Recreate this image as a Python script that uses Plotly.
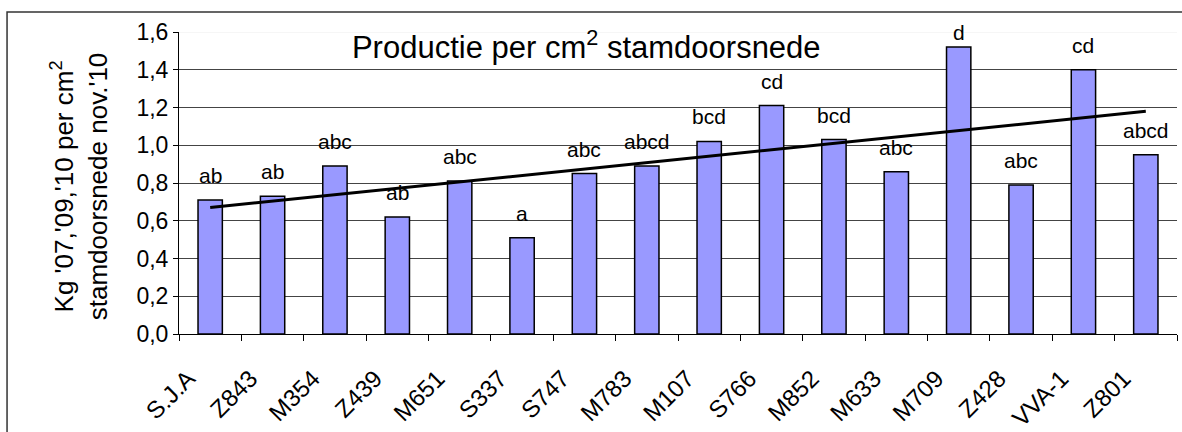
import plotly.graph_objects as go

# cultivars on the x axis
cultivars = ["S.J.A", "Z843", "M354", "Z439", "M651", "S337", "S747", "M783",
             "M107", "S766", "M852", "M633", "M709", "Z428", "VVA-1", "Z801"]

# kg per cm2 trunk cross-section
production = [0.71, 0.73, 0.89, 0.62, 0.81, 0.51, 0.85, 0.89,
              1.02, 1.21, 1.03, 0.86, 1.52, 0.79, 1.40, 0.95]

# significance letters above the bars
letters = ["ab", "ab", "abc", "ab", "abc", "a", "abc", "abcd",
           "bcd", "cd", "bcd", "abc", "d", "abc", "cd", "abcd"]

# linear trend line, read at first and last cultivar
trend_x = ["S.J.A", "Z801"]
trend_y = [0.67, 1.18]

Y_MAX = 1.6
FONT = "Liberation Sans, Arial, sans-serif"

fig = go.Figure()

fig.add_trace(go.Bar(
    x=cultivars,
    y=production,
    marker=dict(color="#9999FF", line=dict(color="black", width=1.5)),
    width=0.39,
    showlegend=False,
))

fig.add_trace(go.Scatter(
    x=trend_x,
    y=trend_y,
    mode="lines",
    line=dict(color="black", width=3),
    showlegend=False,
))

# letters sit a fixed distance above each bar; like Excel, a label that
# would run off the top gets pushed back down against the plot edge
for name, value, label in zip(cultivars, production, letters):
    if value > 1.46:
        pos = dict(y=Y_MAX, yanchor="top", yshift=13)
    else:
        pos = dict(y=value, yanchor="bottom", yshift=11)
    fig.add_annotation(
        x=name, text=label, showarrow=False,
        font=dict(family=FONT, size=21, color="black"),
        **pos,
    )

# y axis title (two lines, rotated)
fig.add_annotation(
    xref="paper", yref="paper", x=-0.10, y=0.49,
    text="Kg '07,'09,'10 per cm<sup>2</sup><br>stamdoorsnede nov.'10",
    textangle=-90, showarrow=False, xanchor="center", yanchor="middle",
    font=dict(family=FONT, size=26, color="black"),
)

# faint line along the top of the plot area
fig.add_shape(type="line", xref="paper", yref="y", x0=0, x1=1, y0=Y_MAX, y1=Y_MAX,
              line=dict(color="#eeeeee", width=1), layer="between")

# chart area border (runs off the right and bottom of the picture)
fig.add_shape(type="rect", xref="paper", yref="paper",
              x0=-0.1723, x1=1.05, y0=-0.5, y1=1.066,
              line=dict(color="#333333", width=1.5))

fig.update_layout(
    width=1182,
    height=432,
    margin=dict(l=179, r=5, t=32, b=98, autoexpand=False),
    paper_bgcolor="white",
    plot_bgcolor="white",
    separators=",.",
    font=dict(family=FONT, color="black"),
    title=dict(
        text="Productie per cm<sup>2</sup> stamdoorsnede",
        x=0.496, xanchor="center", y=0.89, yanchor="middle",
        font=dict(family=FONT, size=31, color="black"),
    ),
)

fig.update_xaxes(
    showline=True, linecolor="black", linewidth=1,
    ticks="outside", tickson="boundaries", ticklen=6, tickcolor="black",
    tickangle=-45, tickfont=dict(family=FONT, size=24, color="black"),
    ticklabelstandoff=20, ticklabelshift=-22,
    showgrid=False,
)

fig.update_yaxes(
    range=[0, Y_MAX], dtick=0.2, tickformat=".1f",
    showline=True, linecolor="black", linewidth=1,
    ticks="outside", ticklen=5, tickcolor="black",
    tickfont=dict(family=FONT, size=23, color="black"),
    showgrid=True, gridcolor="#444444", gridwidth=1,
    zeroline=False,
)

# drop the browser's default page margin so the figure sits at 0,0
fig.write_html(
    "out.html",
    config={"displayModeBar": False},
    post_script="document.body.style.margin = '0';",
)
